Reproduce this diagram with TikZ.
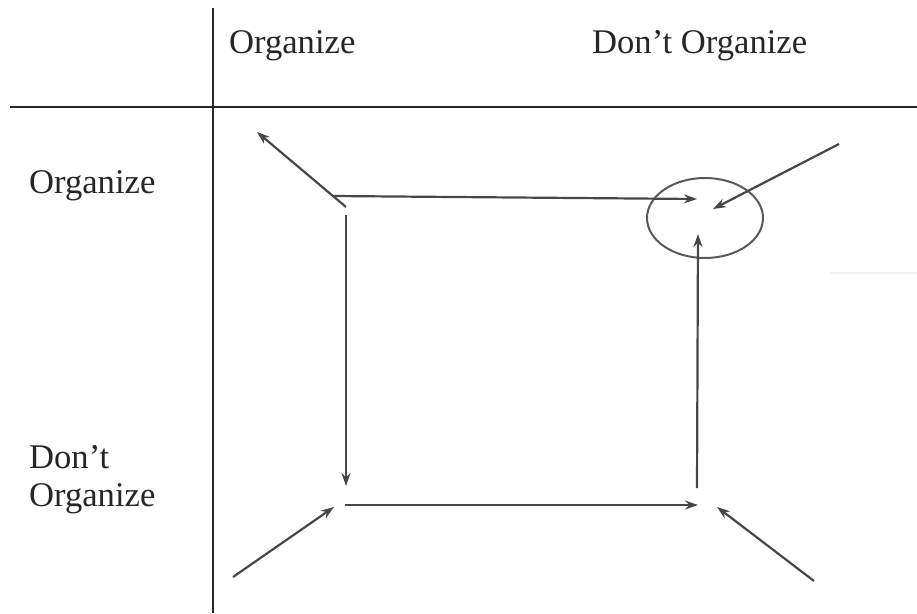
\documentclass[tikz,border=0pt]{standalone}
\usepackage{fontspec}
\setmainfont{Liberation Serif}
\usetikzlibrary{arrows.meta,shapes.geometric}
\begin{document}
\begin{tikzpicture}[x=1pt,y=-1pt,
  lbl/.style={anchor=base west,inner sep=0pt,font=\fontsize{34.6}{40}\selectfont,text=black!85},
  grid/.style={line width=1.6pt,black!85},
  arr/.style={line width=2.2pt,black!72,-{Stealth[length=13pt,width=9pt]}},
  ln/.style={line width=2.2pt,black!72}]
\useasboundingbox (0,0) rectangle (917,613);
% grid
\coordinate (vt) at (213,8);
\coordinate (vb) at (213,613);
\coordinate (hl) at (10,107);
\coordinate (hr) at (917,107);
\draw[grid] (vt) -- (vb);
\draw[grid] (hl) -- (hr);
% labels
\node[lbl] (c1) at (229,53) {Organize};
\node[lbl] (c2) at (592,53) {Don’t Organize};
\node[lbl] (r1) at (29,193) {Organize};
\node[lbl] (r2a) at (29,468) {Don’t};
\node[lbl] (r2b) at (29,506) {Organize};
% points
\coordinate (a1) at (346,207);
\coordinate (a1t) at (257,132);
\coordinate (h1s) at (333,196);
\coordinate (h1e) at (697,199);
\coordinate (v1s) at (346,215);
\coordinate (v1e) at (346,486);
\coordinate (d2s) at (233,577);
\coordinate (d2e) at (334,507);
\coordinate (h2s) at (345,505);
\coordinate (h2e) at (698,505);
\coordinate (v2s) at (697,488);
\coordinate (v2e) at (698,234);
\coordinate (d3s) at (839,144);
\coordinate (d3e) at (713,209);
\coordinate (d4s) at (814,581);
\coordinate (d4e) at (717,507);
% circle
\node[draw=black!65,line width=2pt,ellipse,minimum width=116pt,minimum height=80pt,inner sep=0pt] (circ) at (705,218) {};
% arrows
\draw[arr] (a1) -- (a1t);
\draw[arr] (h1s) -- (h1e);
\draw[arr] (v1s) -- (v1e);
\draw[arr] (d2s) -- (d2e);
\draw[arr] (h2s) -- (h2e);
\draw[arr] (v2s) -- (v2e);
\draw[arr] (d3s) -- (d3e);
\draw[arr] (d4s) -- (d4e);
% faint artifact line
\coordinate (fl) at (830,273);
\coordinate (fr) at (917,273);
\draw[black!6,line width=2pt] (fl) -- (fr);
\end{tikzpicture}
\end{document}
